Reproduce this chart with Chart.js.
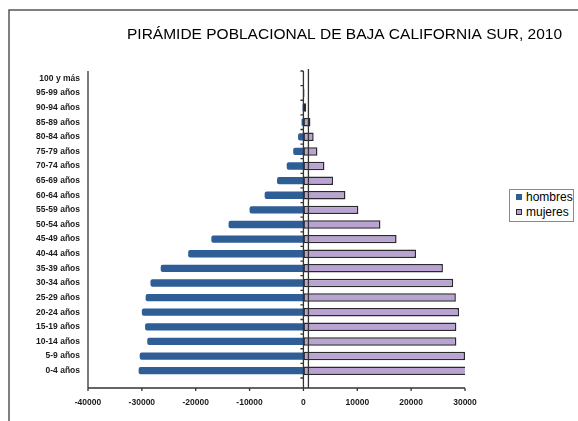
<!DOCTYPE html>
<html>
<head>
<meta charset="utf-8">
<title>Pirámide poblacional BCS 2010</title>
<script src="https://cdn.jsdelivr.net/npm/chart.js@4.4.1/dist/chart.umd.min.js"></script>
<style>
  html, body { margin: 0; padding: 0; background: #fff; }
  #wrap { position: relative; width: 578px; height: 421px; }
  #leyenda {
    position: absolute; left: 509px; top: 189px; width: 65px; height: 33px;
    box-sizing: border-box; border: 1px solid #8a8a8a; background: #fff;
    font: 12px "Liberation Sans", Arial, sans-serif; color: #000; line-height: 15px;
  }
  #leyenda div { white-space: nowrap; }
  #leyenda span { display: inline-block; width: 6px; height: 6px; margin: 0 4px 0 6px; box-sizing: border-box; vertical-align: 1px; }
</style>
</head>
<body>
<div id="wrap">
  <canvas id="piramide" width="578" height="421"></canvas>
  <div id="leyenda"></div>
</div>
<script>
// grupos de edad (de abajo hacia arriba)
const edades = ['0-4 años', '5-9 años', '10-14 años', '15-19 años', '20-24 años',
  '25-29 años', '30-34 años', '35-39 años', '40-44 años', '45-49 años', '50-54 años',
  '55-59 años', '60-64 años', '65-69 años', '70-74 años', '75-79 años', '80-84 años',
  '85-89 años', '90-94 años', '95-99 años', '100 y más'];

// hombres van en negativo para que salgan a la izquierda
const hombres = [-30600, -30400, -29000, -29400, -30000, -29300, -28400, -26500, -21400,
  -17100, -13900, -10000, -7200, -4900, -3100, -1900, -1000, -350, -150, -50, -20];
const mujeres = [30300, 30000, 28400, 28400, 28900, 28300, 27800, 25900, 20900,
  17300, 14300, 10200, 7800, 5500, 3900, 2600, 1900, 1300, 500, 200, 80];

const marcasX = [-40000, -30000, -20000, -10000, 0, 10000, 20000, 30000];

const fuenteEjes = { family: 'Liberation Sans', size: 8.5, weight: 'bold' };

// marco exterior y ejes con el "piso" desplazado como en excel
const ejes = {
  id: 'ejes',
  beforeDraw(chart) {
    const ctx = chart.ctx;
    ctx.save();
    ctx.fillStyle = '#fff';
    ctx.fillRect(0, 0, chart.width, chart.height);
    ctx.strokeStyle = '#555';
    ctx.lineWidth = 1.5;
    ctx.beginPath();
    ctx.moveTo(9, chart.height);
    ctx.lineTo(9, 10);
    ctx.lineTo(chart.width, 10);
    ctx.stroke();
    ctx.restore();
  },
  afterDatasetsDraw(chart) {
    const ctx = chart.ctx;
    const { left, right, top, bottom } = chart.chartArea;
    const x = chart.scales.x;
    const piso = bottom + 10;
    const x0 = x.getPixelForValue(0);
    ctx.save();
    ctx.strokeStyle = '#333';
    ctx.lineWidth = 1.3;
    ctx.beginPath();
    ctx.moveTo(left, top);
    ctx.lineTo(left, piso);
    ctx.lineTo(right, piso);
    marcasX.forEach(v => {
      const px = x.getPixelForValue(v);
      ctx.moveTo(px, piso);
      ctx.lineTo(px, piso + 3);
    });
    ctx.moveTo(x0, top);
    ctx.lineTo(x0, piso + 3);
    const n = edades.length;
    for (let i = 0; i <= n; i++) {
      const py = top + i * (bottom - top) / n;
      ctx.moveTo(x0 - 3, py);
      ctx.lineTo(x0, py);
    }
    ctx.moveTo(x0 + 5, top - 2);
    ctx.lineTo(x0 + 5, piso);
    ctx.stroke();
    ctx.restore();
  }
};

const data = {
  labels: edades,
  datasets: [{
    label: 'hombres',
    data: hombres,
    backgroundColor: '#2f5d96',
    borderColor: '#2f5d96',
    borderWidth: 0,
    borderRadius: 2,
    barPercentage: 0.5,
    categoryPercentage: 1
  }, {
    label: 'mujeres',
    data: mujeres,
    backgroundColor: '#b8a3d3',
    borderColor: '#2a2a2a',
    borderWidth: 1.5,
    borderSkipped: false,
    barPercentage: 0.58,
    categoryPercentage: 1
  }]
};

const config = {
  type: 'bar',
  data: data,
  options: {
    indexAxis: 'y',
    responsive: false,
    animation: false,
    layout: { padding: { left: 0, right: 16, top: 0, bottom: 0 } },
    scales: {
      x: {
        stacked: true,
        min: -40000,
        max: 30000,
        grid: { display: false, drawTicks: false },
        border: { display: false },
        afterBuildTicks: s => { s.ticks = marcasX.map(v => ({ value: v })); },
        ticks: {
          padding: 20,
          font: fuenteEjes,
          color: '#1a1a1a',
          maxRotation: 0,
          callback: v => String(v)
        },
        afterFit: s => { s.height = 43; s.paddingRight = 113; }
      },
      y: {
        stacked: true,
        reverse: true,
        grid: { display: false, drawTicks: false },
        border: { display: false },
        ticks: { padding: 8, font: fuenteEjes, color: '#1a1a1a', autoSkip: false },
        afterFit: s => { s.width = 88; }
      }
    },
    plugins: {
      legend: { display: false },
      tooltip: { enabled: false },
      title: {
        display: true,
        text: 'PIRÁMIDE POBLACIONAL DE BAJA CALIFORNIA SUR, 2010',
        align: 'end',
        color: '#000',
        font: { family: 'Liberation Sans', size: 15.5, weight: 'normal' },
        padding: { top: 25.3, bottom: 27.1 }
      }
    }
  },
  plugins: [ejes]
};

const piramide = new Chart(document.getElementById('piramide'), config);

// leyenda en html, sacada de los datasets
const leyenda = document.getElementById('leyenda');
piramide.data.datasets.forEach(ds => {
  const fila = document.createElement('div');
  const cuadro = document.createElement('span');
  cuadro.style.background = ds.backgroundColor;
  if (ds.borderWidth) cuadro.style.border = '1px solid ' + ds.borderColor;
  fila.appendChild(cuadro);
  fila.appendChild(document.createTextNode(ds.label));
  leyenda.appendChild(fila);
});
</script>
</body>
</html>
